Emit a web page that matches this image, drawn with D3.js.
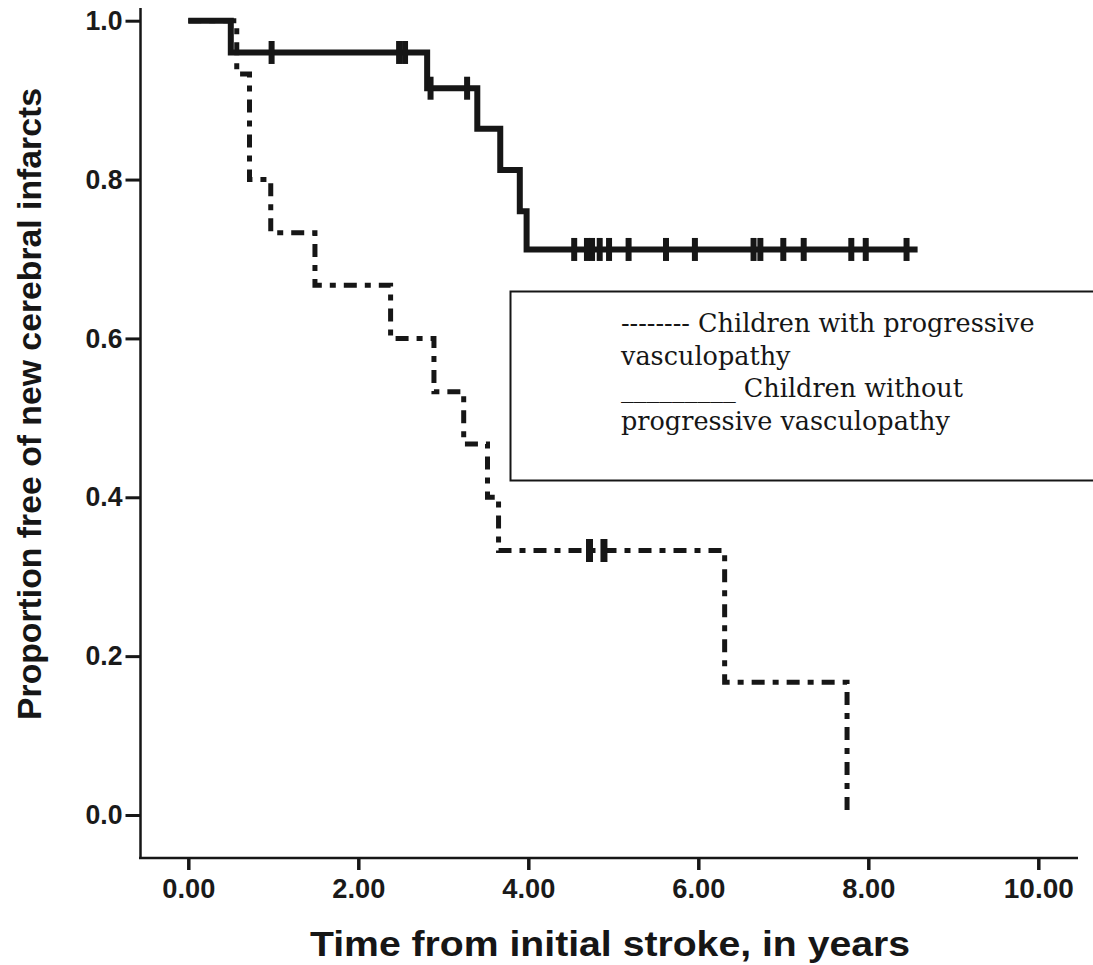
<!DOCTYPE html>
<html>
<head>
<meta charset="utf-8">
<script src="https://cdn.jsdelivr.net/npm/d3@7"></script>
<style>
  html, body { margin: 0; padding: 0; background: #fff; }
  .tick text { font-family: "Liberation Sans", Arial, sans-serif; font-weight: bold; fill: #1a1a1a; }
</style>
</head>
<body>
<div id="chart"></div>
<script>
// Kaplan-Meier steps
const withTimes = [0, 0.57, 0.72, 0.97, 1.49, 2.38, 2.89, 3.24, 3.52, 3.65, 6.31, 7.75];
const withSurv = [1, 0.933, 0.80, 0.733, 0.667, 0.60, 0.533, 0.467, 0.40, 0.333, 0.167, 0];
const withCensor = [4.72, 4.89];

const withoutTimes = [0, 0.50, 2.81, 3.40, 3.67, 3.90, 3.98];
const withoutSurv = [1, 0.96, 0.915, 0.864, 0.812, 0.76, 0.712];
const withoutEnd = 8.58;
const withoutCensor = [0.98, 2.48, 2.55, 2.85, 3.28, 4.54, 4.69, 4.75, 4.84, 4.95,
    5.18, 5.62, 5.96, 6.65, 6.73, 7.0, 7.24, 7.80, 7.97, 8.45];

const xTicks = [0, 2, 4, 6, 8, 10];
const yTicks = [0, 0.2, 0.4, 0.6, 0.8, 1.0];

const legendLines = [
    "-------- Children with progressive",
    "vasculopathy",
    "_________ Children without",
    "progressive vasculopathy"
];

const width = 1093;
const height = 965;
const ink = "#161616";

const svg = d3.select("#chart")
    .append("svg")
    .attr("width", width)
    .attr("height", height)
    .attr("viewBox", `0 0 ${width} ${height}`);

const x = d3.scaleLinear().domain([0, 10]).range([188.3, 1038.3]);
const y = d3.scaleLinear().domain([0, 1]).range([815, 20.7]);

// axis lines (they run past the scale range)
svg.append("line")
    .attr("x1", 140.5).attr("x2", 140.5)
    .attr("y1", 8).attr("y2", 859)
    .attr("stroke", ink).attr("stroke-width", 2.5);
svg.append("line")
    .attr("x1", 139).attr("x2", 1078)
    .attr("y1", 858).attr("y2", 858)
    .attr("stroke", ink).attr("stroke-width", 2.5);

// y axis
const yAxis = svg.append("g")
    .attr("transform", "translate(140.5,0)")
    .call(d3.axisLeft(y).tickValues(yTicks).tickFormat(d3.format(".1f")).tickSize(15).tickPadding(3));
yAxis.select(".domain").remove();
yAxis.selectAll(".tick line").attr("stroke", ink).attr("stroke-width", 3);
yAxis.selectAll(".tick text")
    .style("font-size", "27px")
    .attr("textLength", 37)
    .attr("lengthAdjust", "spacingAndGlyphs");

// x axis
const xAxis = svg.append("g")
    .attr("transform", "translate(0,858)")
    .call(d3.axisBottom(x).tickValues(xTicks).tickFormat(d3.format(".2f")).tickSize(12).tickPadding(8));
xAxis.select(".domain").remove();
xAxis.selectAll(".tick line").attr("stroke", ink).attr("stroke-width", 3.5);
xAxis.selectAll(".tick text")
    .style("font-size", "28px")
    .attr("textLength", d => d >= 10 ? 70 : 53)
    .attr("lengthAdjust", "spacingAndGlyphs");

// axis titles
svg.append("text")
    .attr("x", 610)
    .attr("y", 956)
    .attr("text-anchor", "middle")
    .attr("textLength", 600)
    .attr("lengthAdjust", "spacingAndGlyphs")
    .style("font-family", "Liberation Sans, Arial, sans-serif")
    .style("font-weight", "bold")
    .style("font-size", "35px")
    .attr("fill", ink)
    .text("Time from initial stroke, in years");

svg.append("text")
    .attr("transform", "translate(41,404) rotate(-90)")
    .attr("text-anchor", "middle")
    .attr("textLength", 632)
    .attr("lengthAdjust", "spacingAndGlyphs")
    .style("font-family", "Liberation Sans, Arial, sans-serif")
    .style("font-weight", "bold")
    .style("font-size", "33px")
    .attr("fill", ink)
    .text("Proportion free of new cerebral infarcts");

// step line helper
const stepLine = d3.line()
    .x(d => x(d[0]))
    .y(d => y(d[1]))
    .curve(d3.curveStepAfter);

function levelAt(times, surv, t) {
    let v = surv[0];
    times.forEach((tt, i) => { if (tt <= t) v = surv[i]; });
    return v;
}

// children with progressive vasculopathy (dash-dot)
const withPts = withTimes.map((t, i) => [t, withSurv[i]]);
svg.append("path")
    .datum(withPts)
    .attr("d", stepLine)
    .attr("fill", "none")
    .attr("stroke", ink)
    .attr("stroke-width", 5)
    .attr("stroke-dasharray", "13,8,6,8");

svg.selectAll(".censor-with")
    .data(withCensor)
    .enter().append("line")
    .attr("class", "censor-with")
    .attr("x1", d => x(d)).attr("x2", d => x(d))
    .attr("y1", d => y(levelAt(withTimes, withSurv, d)) - 11.5)
    .attr("y2", d => y(levelAt(withTimes, withSurv, d)) + 11.5)
    .attr("stroke", ink)
    .attr("stroke-width", 7);

// children without progressive vasculopathy (solid)
const withoutPts = withoutTimes.map((t, i) => [t, withoutSurv[i]]);
withoutPts.push([withoutEnd, withoutSurv[withoutSurv.length - 1]]);
svg.append("path")
    .datum(withoutPts)
    .attr("d", stepLine)
    .attr("fill", "none")
    .attr("stroke", ink)
    .attr("stroke-width", 6);

svg.selectAll(".censor-without")
    .data(withoutCensor)
    .enter().append("line")
    .attr("class", "censor-without")
    .attr("x1", d => x(d)).attr("x2", d => x(d))
    .attr("y1", d => y(levelAt(withoutTimes, withoutSurv, d)) - 11.5)
    .attr("y2", d => y(levelAt(withoutTimes, withoutSurv, d)) + 11.5)
    .attr("stroke", ink)
    .attr("stroke-width", 6);

// legend box (runs off the right edge)
svg.append("rect")
    .attr("x", 510.5)
    .attr("y", 291.5)
    .attr("width", 620)
    .attr("height", 189)
    .attr("fill", "#fff")
    .attr("stroke", ink)
    .attr("stroke-width", 2);

svg.selectAll(".legend-text")
    .data(legendLines)
    .enter().append("text")
    .attr("class", "legend-text")
    .attr("x", 621)
    .attr("y", (d, i) => 332 + i * 32.5)
    .style("font-family", "DejaVu Serif, serif")
    .style("font-size", "25.5px")
    .attr("fill", ink)
    .text(d => d);
</script>
</body>
</html>
